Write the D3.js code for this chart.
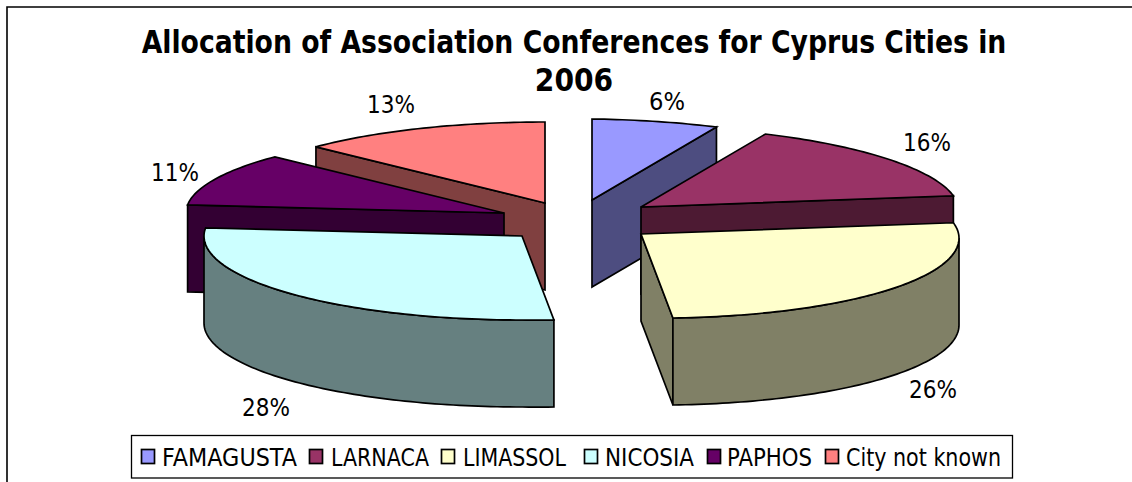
<!DOCTYPE html>
<html><head><meta charset="utf-8">
<script src="https://cdn.jsdelivr.net/npm/d3@7"></script>
<style>
html,body{margin:0;padding:0;background:#fff}
svg{display:block}
text{font-family:"DejaVu Sans",sans-serif;fill:#000}
</style></head><body>
<svg id="c" width="1132" height="482"></svg>
<script>
const categories = ["FAMAGUSTA","LARNACA","LIMASSOL","NICOSIA","PAPHOS","City not known"];
const shares = [6.4,15.6,26.4,28.2,10.6,12.8];
const colors = ["#9999FF","#993366","#FFFFCC","#CCFFFF","#660066","#FF8080"];
const titleLines = ["Allocation of Association Conferences for Cyprus Cities in","2006"];

// layout only: where each exploded slice's tip lands, and label/legend placement
const tipX = [592,641,641,522,504,545];
const tipY = [200,207,234,236,213,203];
const labelPos = [[667,110],[927,151],[933,398],[266,416],[175,181],[391,113]];
const labelW = [36,48,48,48,48,48];
const titleScale = [0.834,0.88];
const legendSwatchX = [141,309,441,584,707,825];
const legendTextX = [162,331,463,605,727,846];
const legendTextW = [135,98,103,89,85,155];
const depth = 87, rx = 318, ryBack = 81, ryFront = 84, rightSkew = 4;

const svg = d3.select("#c");
const pieGen = d3.pie().sort(null).value(d=>d);
const arcs = pieGen(shares);
const half = c => { const k=d3.rgb(c); return d3.rgb(k.r/2,k.g/2,k.b/2).formatHex(); };
const line = d3.line();
const stroke = {stroke:"#000","stroke-width":1.7,"stroke-linejoin":"miter"};

// frame
svg.append("path").attr("d","M7,482V7H1132").attr("fill","none").attr("stroke","#000").attr("stroke-width",1.6);

function pt(i,a,dz=0){
  const ry = Math.cos(a)>=0 ? ryBack : ryFront;
  const skew = Math.sin(a)>0 ? rightSkew*Math.sin(a) : 0;
  return [tipX[i]+rx*Math.sin(a), tipY[i]-ry*Math.cos(a)+skew+dz];
}
function sample(a0,a1){ const n=Math.max(2,Math.ceil((a1-a0)/0.02)); return d3.range(n+1).map(k=>a0+(a1-a0)*k/n); }
function paint(p,fill){
  const s=svg.append("path").attr("d",line(p)+"Z").attr("fill",fill);
  Object.entries(stroke).forEach(([k,v])=>s.attr(k,v));
}
const order = d3.range(arcs.length).sort((a,b)=>tipY[a]-tipY[b]);
order.forEach(i=>{
  const d=arcs[i], a0=d.startAngle, a1=d.endAngle, dark=half(colors[i]);
  const tip=[tipX[i],tipY[i]], tipB=[tipX[i],tipY[i]+depth];
  if(Math.sin(a0)<-1e-6) paint([tip,pt(i,a0),pt(i,a0,depth),tipB],dark);
  if(Math.sin(a1)>1e-6)  paint([tip,pt(i,a1),pt(i,a1,depth),tipB],dark);
  const f0=Math.max(a0,Math.PI/2), f1=Math.min(a1,Math.PI*1.5);
  if(f1>f0){
    const as=sample(f0,f1);
    paint(as.map(a=>pt(i,a)).concat(as.slice().reverse().map(a=>pt(i,a,depth))),dark);
  }
  paint([tip].concat(sample(a0,a1).map(a=>pt(i,a))),colors[i]);
});

// title
svg.selectAll("text.t").data(titleLines).join("text").attr("class","t")
  .attr("transform",(d,i)=>`translate(574,${53+i*38}) scale(${titleScale[i]},1)`)
  .attr("text-anchor","middle")
  .attr("font-size",32).attr("font-weight","bold").text(d=>d);

// value labels
svg.selectAll("text.v").data(arcs).join("text").attr("class","v")
  .attr("x",(d,i)=>labelPos[i][0]).attr("y",(d,i)=>labelPos[i][1])
  .attr("text-anchor","middle").attr("font-size",24.5)
  .attr("textLength",(d,i)=>labelW[i]).attr("lengthAdjust","spacingAndGlyphs")
  .text(d=>d3.format(".0f")(d.value)+"%");

// legend
svg.append("rect").attr("x",131.5).attr("y",435.5).attr("width",881).attr("height",42.5)
  .attr("fill","#fff").attr("stroke","#000").attr("stroke-width",1.3);
categories.forEach((c,i)=>{
  svg.append("rect").attr("x",legendSwatchX[i]+.5).attr("y",449.5).attr("width",13).attr("height",14)
    .attr("fill",colors[i]).attr("stroke","#000").attr("stroke-width",1.7);
  svg.append("text").attr("x",legendTextX[i]).attr("y",466).attr("font-size",24)
    .attr("textLength",legendTextW[i]).attr("lengthAdjust","spacingAndGlyphs").text(c);
});
</script></body></html>
